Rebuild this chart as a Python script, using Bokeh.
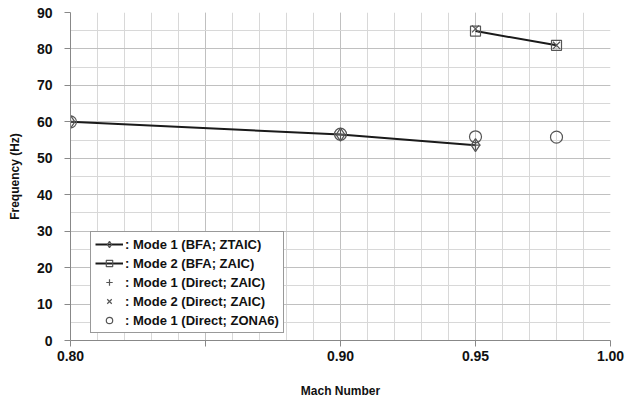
from bokeh.plotting import figure
from bokeh.models import Legend, LegendItem, FixedTicker
from bokeh.embed import file_html
from bokeh.resources import INLINE

# Data
m1_bfa_x = [0.80, 0.90, 0.95]
m1_bfa_y = [60.0, 56.5, 53.6]
m2_bfa_x = [0.95, 0.98]
m2_bfa_y = [84.9, 81.0]
m1_dir_zaic_x = [0.80, 0.90, 0.95]
m1_dir_zaic_y = [60.0, 56.5, 53.6]
m2_dir_zaic_x = [0.95, 0.98]
m2_dir_zaic_y = [85.5, 81.0]
m1_zona_x = [0.80, 0.90, 0.95, 0.98]
m1_zona_y = [60.0, 56.6, 55.9, 55.8]

x_major = [0.80, 0.85, 0.90, 0.95, 1.00]
x_labels = {0.8: "0.80", 0.85: "", 0.9: "0.90", 0.95: "0.95", 1.0: "1.00"}
y_major = [0, 10, 20, 30, 40, 50, 60, 70, 80, 90]

FONT = "Liberation Sans"

p = figure(width=632, height=400, output_backend="svg", toolbar_location=None,
           x_range=(0.80, 1.00), y_range=(0, 90),
           min_border_left=70, min_border_right=22, min_border_top=12, min_border_bottom=60)
p.outline_line_color = None

p.xaxis.ticker = FixedTicker(ticks=x_major, minor_ticks=[round(0.80 + 0.01 * i, 2) for i in range(21)])
p.yaxis.ticker = FixedTicker(ticks=y_major, minor_ticks=list(range(0, 91, 5)))
p.xaxis.major_label_overrides = x_labels

for ax in (p.xaxis[0], p.yaxis[0]):
    ax.axis_line_color = "#888888"
    ax.major_tick_line_color = "#888888"
    ax.minor_tick_line_color = None
    ax.major_tick_out = 6
    ax.major_tick_in = 0
    ax.major_label_text_font = FONT
    ax.major_label_text_font_style = "bold"
    ax.major_label_text_font_size = "14px"
    ax.major_label_text_color = "#111111"
    ax.axis_label_text_font = FONT
    ax.axis_label_text_font_style = "bold"
    ax.axis_label_text_font_size = "12px"
    ax.axis_label_text_color = "#111111"

p.xaxis.major_label_standoff = 4
p.xaxis.axis_label = "Mach Number"
p.xaxis.axis_label_standoff = 20
p.yaxis.major_label_standoff = 12
p.yaxis.axis_label = "Frequency (Hz)"
p.yaxis.axis_label_standoff = 12

p.xgrid.grid_line_color = "#c0c0c0"
p.ygrid.grid_line_color = "#c0c0c0"
p.xgrid.minor_grid_line_color = "#d8d8d8"
p.ygrid.minor_grid_line_color = "#d8d8d8"

l1 = p.line(m1_bfa_x, m1_bfa_y, line_color="#1a1a1a", line_width=2)
s1 = p.scatter(m1_bfa_x, m1_bfa_y, marker="diamond", size=13, fill_color=None,
               line_color="#555555", line_width=1.2)
l2 = p.line(m2_bfa_x, m2_bfa_y, line_color="#1a1a1a", line_width=2)
s2 = p.scatter(m2_bfa_x, m2_bfa_y, marker="square", size=10, fill_color=None,
               line_color="#555555", line_width=1.2)
s3 = p.scatter(m1_dir_zaic_x, m1_dir_zaic_y, marker="cross", size=10,
               line_color="#555555", line_width=1.2)
s4 = p.scatter(m2_dir_zaic_x, m2_dir_zaic_y, marker="x", size=10,
               line_color="#555555", line_width=1.2)
s5 = p.scatter(m1_zona_x, m1_zona_y, marker="circle", size=12, fill_color=None,
               line_color="#555555", line_width=1.2)

legend = Legend(items=[
    LegendItem(label=": Mode 1 (BFA; ZTAIC)", renderers=[l1, s1]),
    LegendItem(label=": Mode 2 (BFA; ZAIC)", renderers=[l2, s2]),
    LegendItem(label=": Mode 1 (Direct; ZAIC)", renderers=[s3]),
    LegendItem(label=": Mode 2 (Direct; ZAIC)", renderers=[s4]),
    LegendItem(label=": Mode 1 (Direct; ZONA6)", renderers=[s5]),
], location=(20, 7))
legend.label_text_font = FONT
legend.label_text_font_style = "bold"
legend.label_text_font_size = "13px"
legend.label_text_color = "#111111"
legend.label_height = 16
legend.glyph_height = 16
legend.glyph_width = 28
legend.spacing = 3
legend.padding = 4
legend.margin = 0
legend.label_standoff = 2
legend.border_line_color = "#333333"
legend.border_line_width = 1
legend.background_fill_alpha = 1.0
p.add_layout(legend, "center")

open("out.html", "w").write(file_html(p, INLINE))
